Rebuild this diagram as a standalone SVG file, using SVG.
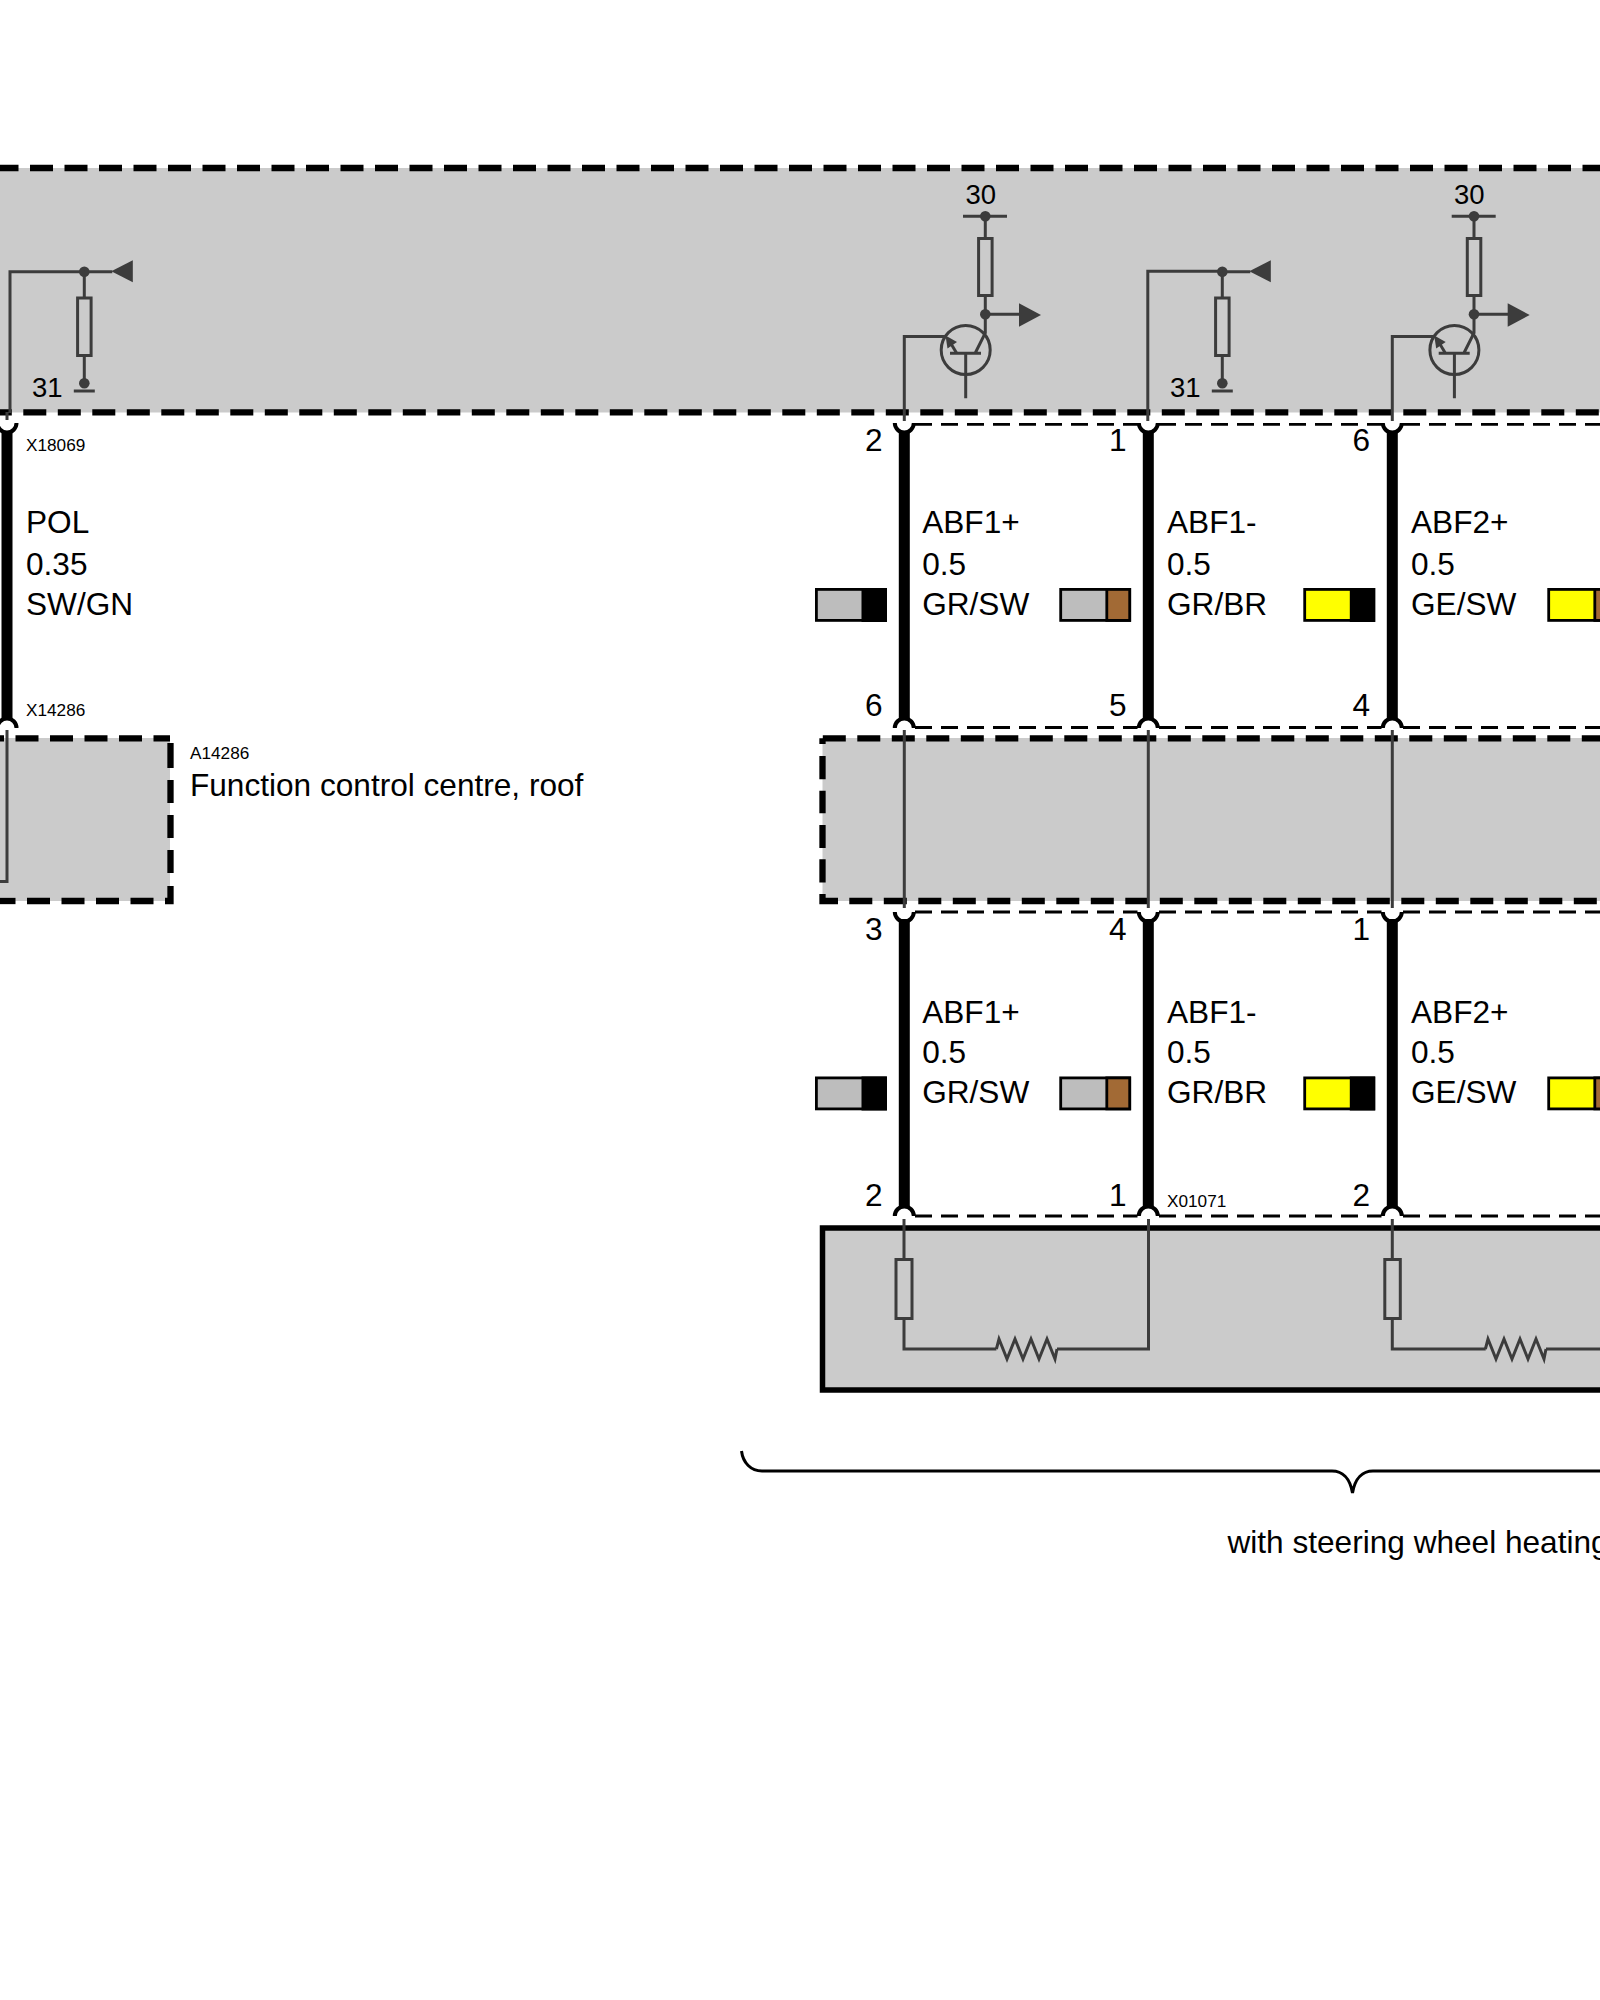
<svg xmlns="http://www.w3.org/2000/svg" xmlns:xlink="http://www.w3.org/1999/xlink" width="1600" height="2000" viewBox="0 0 1600 2000">
<style>
text{font-family:"Liberation Sans",Arial,sans-serif;fill:#000;font-size:31.6px}
text.s{font-size:17.2px}
text.v{font-size:27.5px}
.fill{fill:#cbcbcb;stroke:none}
.bd{fill:none;stroke:#000;stroke-width:6.3;stroke-dasharray:23 11.5}
.t{fill:none;stroke:#3c3c3c;stroke-width:3}
.r{fill:none;stroke:#3c3c3c;stroke-width:3}
.d{fill:#3c3c3c;stroke:none}
.w{stroke:#000;stroke-width:11;fill:none}
.cap{stroke:#000;stroke-width:4;fill:none}
.cd{stroke:#000;stroke-width:2.8;fill:none;stroke-dasharray:17 9}
.sw{stroke:#000;stroke-width:2.8}
</style>
<defs>
<g id="pull"><circle class="d" cx="0" cy="271.700" r="5.3"/><path class="t" d="M0,271.700H28M0,271.700V298M0,355.500V383"/><rect class="r" x="-6.700" y="298" width="13.500" height="57.500"/><circle class="d" cx="0" cy="383.300" r="5.3"/><path class="t" d="M-10.500,391H10.500"/><path class="d" d="M27,271.300L48.500,260.300V282.300Z"/></g>
<g id="tr">
<path class="t" d="M963,216.300H1007M985.300,216.300V238.500M985.300,295.500V333L975,353.500M950,353.300H981M965.700,353.300V398.300M985.300,314.300H1022"/>
<circle class="d" cx="985.300" cy="216.300" r="5.300"/>
<rect class="r" x="978.600" y="238.500" width="13.500" height="57"/>
<circle class="d" cx="985.300" cy="314.300" r="5.300"/>
<path class="d" d="M1019,303.300L1041,315L1019,326.700Z"/>
<circle class="t" cx="965.700" cy="350" r="24.500"/>
<path class="t" d="M956.700,353.300L950,342"/>
<path class="d" d="M945.500,335.500L957,342L947.500,348.500Z"/>
</g>
<g id="zig"><path class="t" d="M996.400,1349L999,1339L1007,1359L1015,1339L1023,1359L1031,1339L1039,1359L1047,1339L1055,1359L1057,1349"/></g>
<g id="swGS"><rect class="sw" x="1.400" y="1.400" width="69" height="31" fill="#bdbdbd"/><rect x="46.500" y="0" width="25.500" height="34" fill="#000"/></g>
<g id="swGB"><rect class="sw" x="1.400" y="1.400" width="69" height="31" fill="#bdbdbd"/><rect class="sw" x="47.500" y="1.400" width="22.900" height="31" fill="#a26a35"/></g>
<g id="swYS"><rect class="sw" x="1.400" y="1.400" width="69" height="31" fill="#ffff00"/><rect x="46.500" y="0" width="25.500" height="34" fill="#000"/></g>
<g id="swYB"><rect class="sw" x="1.400" y="1.400" width="69" height="31" fill="#ffff00"/><rect class="sw" x="47.500" y="1.400" width="22.900" height="31" fill="#a26a35"/></g>
</defs>

<g id="top-module">
<rect class="fill" x="0" y="168" width="1600" height="244.500"/>
<path class="bd" d="M-4.500,168H1600"/>
<path class="bd" d="M-11.200,412.300H1600"/>
<use xlink:href="#pull" href="#pull" x="84.300" y="0"/>
<use xlink:href="#pull" href="#pull" x="1222.300" y="0"/>
<use xlink:href="#tr" href="#tr"/>
<use xlink:href="#tr" href="#tr" x="488.700"/>
<path class="t" d="M7,412V420M10,413V271.700H84.300"/>
<path class="t" d="M904.300,421V336.500H945"/>
<path class="t" d="M1147.800,421V271.300H1222.300"/>
<path class="t" d="M1392.300,421V336.500H1433"/>
<text class="v" x="32" y="397">31</text>
<text class="v" x="1170" y="397">31</text>
<text class="v" x="965.500" y="204">30</text>
<text class="v" x="1454" y="204">30</text>
</g>

<g id="fcc-left">
<rect class="fill" x="0" y="738" width="170" height="163"/>
<path class="bd" d="M-19,738.300H170"/>
<path fill="none" stroke="#000" stroke-width="6.300" d="M165,901H170.500V886M170.500,873V850M170.500,838V815M170.500,803V780M170.500,768V743"/>
<path class="bd" d="M27,901H165"/>
<path class="bd" d="M-7.500,901H20"/>
<path class="t" d="M7,730V881.500H0"/>
<text class="s" x="190" y="758.700">A14286</text>
<text x="190" y="796">Function control centre, roof</text>
</g>

<g id="fcc-main">
<rect class="fill" x="822.500" y="738" width="777.500" height="163"/>
<path class="bd" d="M822.800,738.300H1600"/>
<path class="bd" d="M849.300,901H1600"/>
<path fill="none" stroke="#000" stroke-width="6.300" d="M838,901H822.500V894M822.500,882.600V859.300M822.500,848V825M822.500,813.300V790.700M822.500,779.300V756M822.500,744V738.300"/>
<path class="t" d="M904.300,730V908M1148.300,730V908M1392.300,730V908"/>
</g>

<g id="steering-module">
<rect x="822.500" y="1228" width="790" height="162" fill="#cbcbcb" stroke="#000" stroke-width="5.500"/>
<path class="t" d="M904,1219V1259.500M904,1318.500V1349H996.400M1057,1349H1148.500V1219"/>
<path class="t" d="M1392.300,1219V1259.500M1392.300,1318.500V1349H1485.700M1546,1349H1640"/>
<rect class="r" x="896" y="1259.500" width="16" height="59"/>
<rect class="r" x="1384.800" y="1259.500" width="15.500" height="59"/>
<use xlink:href="#zig" href="#zig"/>
<use xlink:href="#zig" href="#zig" x="489"/>
</g>

<g id="connectors">
<path class="w" d="M7,431V720"/>
<path class="cap" d="M-2.500,423A9.500,9.500 0 0 0 16.500,423M-2.500,728A9.500,9.500 0 0 1 16.500,728"/>
<path class="w" d="M904.300,431V720M1148.300,431V720M1392.300,431V720"/>
<path class="cap" d="M894.800,423A9.500,9.500 0 0 0 913.800,423M1138.800,423A9.500,9.500 0 0 0 1157.800,423M1382.800,423A9.500,9.500 0 0 0 1401.800,423"/>
<path class="cap" d="M894.800,728A9.500,9.500 0 0 1 913.800,728M1138.800,728A9.500,9.500 0 0 1 1157.800,728M1382.800,728A9.500,9.500 0 0 1 1401.800,728"/>
<path class="cd" d="M915,424.300H1137.500M1159,424.300H1381.500M1403,424.300H1600"/>
<path class="cd" d="M915,727.500H1137.500M1159,727.500H1381.500M1403,727.500H1600"/>
<path class="w" d="M904.300,919V1208M1148.300,919V1208M1392.300,919V1208"/>
<path class="cap" d="M894.800,912A9.500,9.500 0 0 0 913.800,912M1138.800,912A9.500,9.500 0 0 0 1157.800,912M1382.800,912A9.500,9.500 0 0 0 1401.800,912"/>
<path class="cap" d="M894.800,1216A9.500,9.500 0 0 1 913.800,1216M1138.800,1216A9.500,9.500 0 0 1 1157.800,1216M1382.800,1216A9.500,9.500 0 0 1 1401.800,1216"/>
<path class="cd" d="M915,912H1137.500M1159,912H1381.500M1403,912H1600"/>
<path class="cd" d="M915,1216H1137.500M1159,1216H1381.500M1403,1216H1600"/>
</g>

<g id="wire-pol">
<text class="s" x="26" y="451">X18069</text>
<text x="26" y="533">POL</text>
<text x="26" y="574.700">0.35</text>
<text x="26" y="614.500">SW/GN</text>
<text class="s" x="26" y="715.700">X14286</text>
</g>

<g id="wire-abf1p-upper">
<text x="865" y="451">2</text><text x="865" y="716">6</text>
<use xlink:href="#swGS" href="#swGS" x="815" y="588"/>
<text x="922.200" y="533">ABF1+</text><text x="922.200" y="574.700">0.5</text><text x="922.200" y="614.500">GR/SW</text>
</g>
<g id="wire-abf1m-upper">
<text x="1109" y="451">1</text><text x="1109" y="716">5</text>
<use xlink:href="#swGB" href="#swGB" x="1059.300" y="588"/>
<text x="1167" y="533">ABF1-</text><text x="1167" y="574.700">0.5</text><text x="1167" y="614.500">GR/BR</text>
</g>
<g id="wire-abf2p-upper">
<text x="1352.500" y="451">6</text><text x="1352.500" y="716">4</text>
<use xlink:href="#swYS" href="#swYS" x="1303.300" y="588"/>
<text x="1411" y="533">ABF2+</text><text x="1411" y="574.700">0.5</text><text x="1411" y="614.500">GE/SW</text>
<use xlink:href="#swYB" href="#swYB" x="1547.300" y="588"/>
</g>
<g id="wire-abf1p-lower">
<text x="865" y="940">3</text><text x="865" y="1206">2</text>
<use xlink:href="#swGS" href="#swGS" x="815" y="1076.500"/>
<text x="922.200" y="1022.700">ABF1+</text><text x="922.200" y="1063.300">0.5</text><text x="922.200" y="1103">GR/SW</text>
</g>
<g id="wire-abf1m-lower">
<text x="1109" y="940">4</text><text x="1109" y="1206">1</text>
<text class="s" x="1167" y="1207">X01071</text>
<use xlink:href="#swGB" href="#swGB" x="1059.300" y="1076.500"/>
<text x="1167" y="1022.700">ABF1-</text><text x="1167" y="1063.300">0.5</text><text x="1167" y="1103">GR/BR</text>
</g>
<g id="wire-abf2p-lower">
<text x="1352.500" y="940">1</text><text x="1352.500" y="1206">2</text>
<use xlink:href="#swYS" href="#swYS" x="1303.300" y="1076.500"/>
<text x="1411" y="1022.700">ABF2+</text><text x="1411" y="1063.300">0.5</text><text x="1411" y="1103">GE/SW</text>
<use xlink:href="#swYB" href="#swYB" x="1547.300" y="1076.500"/>
</g>

<g id="brace">
<path fill="none" stroke="#000" stroke-width="3" d="M741.500,1451C743,1463 751,1471 762,1471H1332C1342,1471 1350,1478 1352.500,1493C1355,1478 1363,1471 1373,1471H1600"/>
<text x="1227.500" y="1552.500">with steering wheel heating</text>
</g>
</svg>
